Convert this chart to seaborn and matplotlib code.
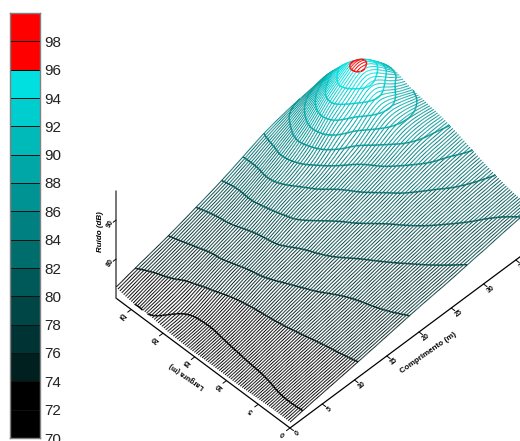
import numpy as np
import seaborn as sns
import matplotlib
matplotlib.use("Agg")
import matplotlib.pyplot as plt
import matplotlib.tri as mtri
from matplotlib.colors import ListedColormap
from matplotlib.collections import LineCollection
from contourpy import contour_generator

# ---- data -----------------------------------------------------------
band_edges = [70, 72, 74, 76, 78, 80, 82, 84, 86, 88, 90, 92, 94, 96, 98, 100]
cbar_ticks = [70, 72, 74, 76, 78, 80, 82, 84, 86, 88, 90, 92, 94, 96, 98]
contour_levels = [72, 74, 76, 78, 80, 82, 84, 86, 88, 90, 92, 94, 96]
length_nodes = [0, 4, 8, 12, 16, 20, 24, 26.7, 28.5, 30.5, 32.3, 34.4, 37.4]
width_nodes = [0, 4, 8, 12, 15, 18, 20, 22.4, 24.5, 27.4]
noise_w00 = [71.5, 72.5, 73.4, 74.35, 75.35, 76.35, 77.15, 77.8, 78.25, 78.7, 79.2, 79.7, 80.3]
noise_w04 = [71.5, 72.5, 73.55, 74.6, 75.8, 77.0, 78.1, 78.9, 79.4, 79.95, 80.35, 80.75, 81.3]
noise_w08 = [71.2, 72.4, 73.7, 75.0, 76.35, 77.8, 79.2, 80.2, 80.85, 81.4, 82.0, 82.6, 83.3]
noise_w12 = [71.2, 72.3, 73.9, 75.65, 77.35, 78.95, 80.5, 81.65, 82.55, 83.4, 84.25, 84.9, 85.6]
noise_w15 = [71.1, 72.2, 74.1, 76.25, 77.95, 79.9, 81.6, 83.05, 84.05, 85.4, 86.6, 87.2, 86.9]
noise_w18 = [71.2, 72.25, 74.6, 76.6, 78.8, 81.1, 82.9, 84.9, 86.5, 89.0, 90.4, 89.7, 87.8]
noise_w20 = [71.5, 72.6, 75.0, 76.8, 79.1, 81.6, 84.4, 88.05, 90.1, 92.6, 94.0, 92.0, 88.8]
noise_w22 = [72.0, 73.4, 75.2, 77.2, 79.5, 82.3, 85.9, 89.8, 92.5, 94.9, 96.5, 94.8, 89.5]
noise_w24 = [72.0, 73.85, 75.55, 77.45, 79.55, 82.3, 85.6, 88.3, 90.5, 92.5, 93.5, 91.0, 88.0]
noise_w27 = [72.8, 74.4, 75.95, 77.8, 79.8, 82.2, 84.5, 85.5, 86.0, 86.5, 87.0, 86.5, 85.0]
length_ticks = [0, 5, 10, 15, 20, 25, 30, 35]
width_ticks = [0, 5, 10, 15, 20, 25]
noise_ticks = [80, 90]
# ---------------------------------------------------------------------

sns.set_theme(style="white")
plt.rcParams["font.family"] = ["Liberation Sans", "DejaVu Sans"]

teals = sns.blend_palette(["#002020", "#00e0e0"], 11)
band_colors = ["#000000", "#000000"] + [tuple(c) for c in teals] + ["#ff0000", "#ff0000"]
band_cmap = ListedColormap(band_colors)


def band_color(z):
    return band_colors[int(np.clip((z - 70) // 2, 0, len(band_colors) - 1))]


fig = plt.figure(figsize=(5.2, 4.41), dpi=100, facecolor="white")

# ---- the colour key --------------------------------------------------
cax = fig.add_axes([10 / 520, 1 - 438 / 441, 30 / 520, 425 / 441])
mids = np.array(band_edges[:-1])[::-1].reshape(-1, 1) + 1.0
sns.heatmap(mids, ax=cax, cmap=band_cmap, vmin=70, vmax=100, cbar=False,
            linewidths=0.5, linecolor="#101010", xticklabels=False)
cax.yaxis.tick_right()
cax.set_yticks([(100 - v) / 2 for v in cbar_ticks])
cax.set_yticklabels([str(v) for v in cbar_ticks], rotation=0, fontsize=11, color="#222222")
cax.tick_params(axis="y", length=0, pad=3)
for s in cax.spines.values():
    s.set_visible(True)
    s.set_color("#808080")
    s.set_linewidth(1.0)

# ---- the surface -----------------------------------------------------
ax = fig.add_axes([0, 0, 1, 1], zorder=-1)
ax.set_xlim(0, 520)
ax.set_ylim(441, 0)
ax.axis("off")


def project(x, y, z):
    x, y, z = np.asarray(x, float), np.asarray(y, float), np.asarray(z, float)
    return 290 + 6.45 * x - 6.35 * y, 428 - 4.8 * x - 4.74 * y - 3.9 * (z - 70)


grid_x, grid_y = np.meshgrid(length_nodes, width_nodes)
grid_z = np.array([noise_w00, noise_w04, noise_w08, noise_w12, noise_w15,
                   noise_w18, noise_w20, noise_w22, noise_w24, noise_w27])
tri = mtri.Triangulation(grid_x.ravel(), grid_y.ravel())
surface = mtri.CubicTriInterpolator(tri, grid_z.ravel(), kind="min_E")

n_rows, n_cols = 92, 260
fx = np.linspace(length_nodes[0], length_nodes[-1] - 1e-6, n_cols)
fy = np.linspace(width_nodes[0] + 1e-6, width_nodes[-1] - 1e-6, n_rows)
FX, FY = np.meshgrid(fx, fy)
FZ = np.ma.filled(surface(FX, FY), 70.0)

# contour pieces, sorted into the strip of the mesh they lie on
gen = contour_generator(FX, FY, FZ)
dy = fy[1] - fy[0]
strip_segs = {}
for lev in contour_levels:
    for line in gen.lines(lev):
        sx, sy = project(line[:, 0], line[:, 1], lev)
        for k in range(len(line) - 1):
            j = int(np.clip(np.ceil((line[k, 1] + line[k + 1, 1]) / 2 / dy), 1, n_rows - 1))
            strip_segs.setdefault(j, []).append(
                ([(sx[k], sy[k]), (sx[k + 1], sy[k + 1])], band_color(lev)))

order = 10
for j in range(n_rows - 1, -1, -1):
    sx, sy = project(FX[j], FY[j], FZ[j])
    if j > 0:
        bx, by = project(FX[j - 1], FY[j - 1], FZ[j - 1])
        ax.fill(np.r_[sx, bx[::-1]], np.r_[sy, by[::-1]], color="white", lw=0, zorder=order)
        order += 1
    pts = np.column_stack([sx, sy])
    segs = np.stack([pts[:-1], pts[1:]], axis=1)
    cols = [band_color(z) for z in (FZ[j][:-1] + FZ[j][1:]) / 2]
    ax.add_collection(LineCollection(segs, colors=cols, linewidths=0.72, zorder=order))
    order += 1
    if j in strip_segs:
        ax.add_collection(LineCollection([s for s, c in strip_segs[j]],
                                         colors=[c for s, c in strip_segs[j]],
                                         linewidths=1.1, zorder=order))
        order += 1

# ---- the three axes --------------------------------------------------
axis_kw = dict(color="black", lw=0.9, zorder=5, solid_capstyle="butt")
xl = np.array([0, 40])
ax.plot(*project(xl, [0, 0], [70, 70]), **axis_kw)
ax.plot(*project([0, 0], [0, 27.4], [70, 70]), **axis_kw)
ax.plot(*project([0, 0], [27.4, 27.4], [70, 97.5]), color="#505050", lw=1.1, zorder=5)

for v in length_ticks:
    ax.plot(*project([v, v], [0, -0.55], [70, 70]), color="black", lw=0.7, zorder=5)
    px, py = project(v, -1.15, 70)
    ax.text(px, py, str(v), rotation=37, fontsize=5, fontweight="bold",
            ha="center", va="center", color="black", zorder=6)
for v in width_ticks:
    ax.plot(*project([0, -0.55], [v, v], [70, 70]), color="black", lw=0.7, zorder=5)
    px, py = project(-1.1, v, 70)
    ax.text(px, py, str(v), rotation=142, fontsize=5, fontweight="bold",
            ha="center", va="center", color="black", zorder=6)
for v in noise_ticks:
    ax.plot(*project([0, -0.45], [27.4, 27.4], [v, v]), color="black", lw=0.7, zorder=5)
    px, py = project(-0.85, 27.4, v)
    ax.text(px, py, str(v), rotation=60, fontsize=5, fontweight="bold",
            ha="center", va="center", color="black", zorder=6)

ax.text(428, 353, "Comprimento (m)", rotation=35, fontsize=5.8, fontweight="bold",
        ha="center", va="center", color="black", zorder=6)
ax.text(187, 376, "Largura (m)", rotation=146, fontsize=5.2, fontweight="bold",
        ha="center", va="center", color="black", zorder=6)
ax.text(100, 232, "Ruído (dB)", rotation=90, fontsize=5.8, fontweight="bold", style="italic",
        ha="center", va="center", color="black", zorder=6)

fig.savefig("out.png", dpi=100, facecolor="white")
